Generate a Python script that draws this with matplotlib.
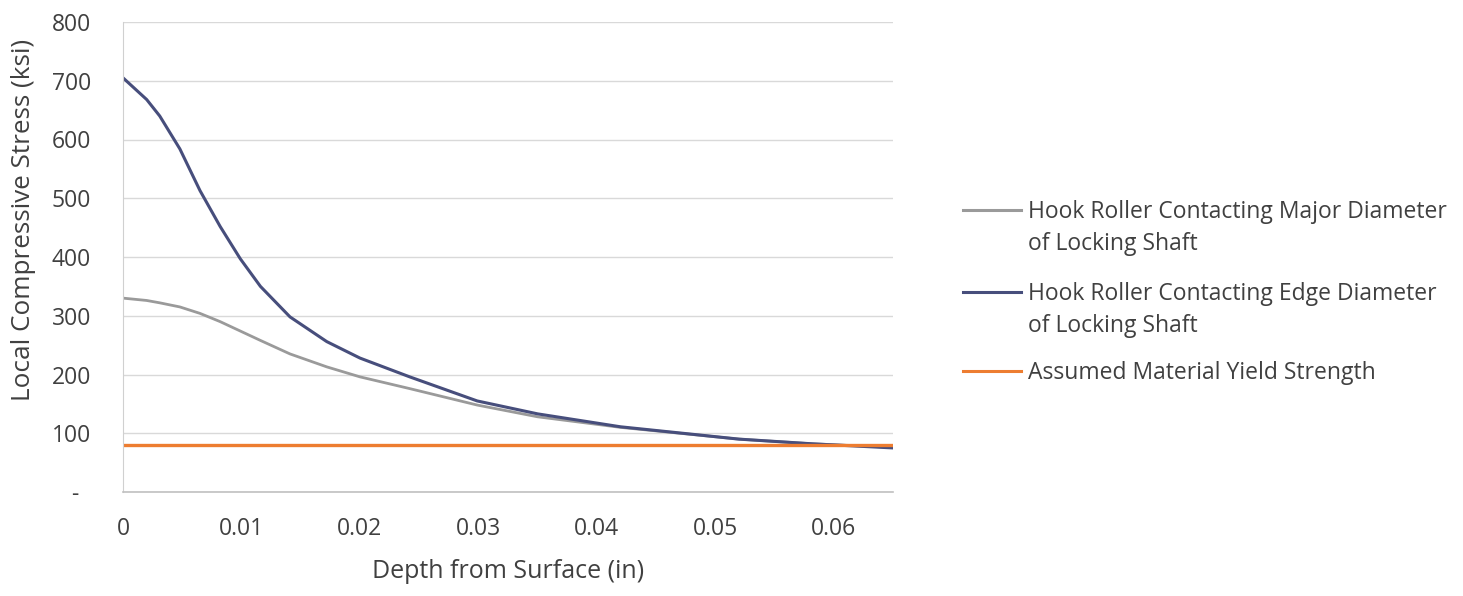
import matplotlib
matplotlib.use("Agg")
import matplotlib.pyplot as plt
from matplotlib.lines import Line2D
from matplotlib.transforms import ScaledTranslation

plt.rcParams['font.family'] = ['Open Sans', 'DejaVu Sans']

# Depth below the contact surface (in)
depth = [0.0, 0.002, 0.0031, 0.0048, 0.0065, 0.0082, 0.0099, 0.0116, 0.0141,
         0.0172, 0.020, 0.0242, 0.0299, 0.035, 0.042, 0.052, 0.0582, 0.065]

# Local compressive stress (ksi)
major_diameter = [330, 326, 322, 315, 304, 290, 274, 258, 235,
                  213, 196, 176, 148, 128, 110, 90, 82, 76]
edge_diameter = [705, 668, 640, 584, 513, 452, 397, 350, 298,
                 256, 228, 196, 155, 133, 111, 90, 82, 75]
yield_strength = [80] * len(depth)

series_labels = [
    "Hook Roller Contacting Major Diameter\nof Locking Shaft",
    "Hook Roller Contacting Edge Diameter\nof Locking Shaft",
    "Assumed Material Yield Strength",
]
colors = ["#9a9a9a", "#474e7c", "#ed7d31"]

x_ticks = [0, 0.01, 0.02, 0.03, 0.04, 0.05, 0.06]
x_tick_labels = ["0", "0.01", "0.02", "0.03", "0.04", "0.05", "0.06"]
y_ticks = [0, 100, 200, 300, 400, 500, 600, 700, 800]
y_tick_labels = ["-", "100", "200", "300", "400", "500", "600", "700", "800"]

W, H = 1463, 596
fig = plt.figure(figsize=(W / 100, H / 100), dpi=100)
ax = fig.add_axes([123 / W, 1 - 492 / H, (893 - 123) / W, (492 - 22) / H])

ax.plot(depth, major_diameter, color=colors[0], lw=2.0, solid_capstyle="round")
ax.plot(depth, edge_diameter, color=colors[1], lw=2.2, solid_capstyle="round")
ax.plot(depth, yield_strength, color=colors[2], lw=2.4)

ax.set_xlim(0, 0.065)
ax.set_ylim(0, 800)
ax.set_xticks(x_ticks)
ax.set_xticklabels(x_tick_labels)
ax.set_yticks(y_ticks)
ax.set_yticklabels(y_tick_labels)
ax.tick_params(length=0, labelsize=16.5, colors="#404040")
ax.tick_params(axis="y", pad=23)
ax.tick_params(axis="x", pad=18)

# accounting-style zero dash sits left of the number column
zero_lbl = ax.get_yticklabels()[0]
zero_lbl.set_transform(zero_lbl.get_transform()
                       + ScaledTranslation(-0.13, 0, fig.dpi_scale_trans))

ax.grid(axis="y", color="#d9d9d9", lw=1.0)
ax.set_axisbelow(True)
for side in ("top", "right"):
    ax.spines[side].set_visible(False)
ax.spines["left"].set_color("#d0d0d0")
ax.spines["bottom"].set_color("#c0c0c0")
ax.spines["bottom"].set_linewidth(1.2)

ax.set_xlabel("Depth from Surface (in)", fontsize=18, color="#404040")
ax.set_ylabel("Local Compressive Stress (ksi)", fontsize=18.8, color="#404040")
ax.xaxis.set_label_coords(0.5, -(572 - 492) / 470, transform=ax.transAxes)
ax.xaxis.label.set_va("center")
ax.yaxis.set_label_coords(-(123 - 24) / 770, (492 - 220) / 470, transform=ax.transAxes)
ax.yaxis.label.set_va("center")

# Legend drawn beside the plot: handle aligned with first text line
entries = [(210, series_labels[0]), (292, series_labels[1]), (371, series_labels[2])]
for (ypx, label), c in zip(entries, colors):
    yf = 1 - ypx / H
    fig.add_artist(Line2D([963 / W, 1021 / W], [yf, yf], color=c, lw=2.2,
                          transform=fig.transFigure))
    fig.text(1028 / W, 1 - (ypx - 10) / H, label, fontsize=16.5, color="#404040",
             va="top", ha="left", linespacing=1.42,
             transform=fig.transFigure)

fig.savefig("out.png", dpi=100, facecolor="white")
